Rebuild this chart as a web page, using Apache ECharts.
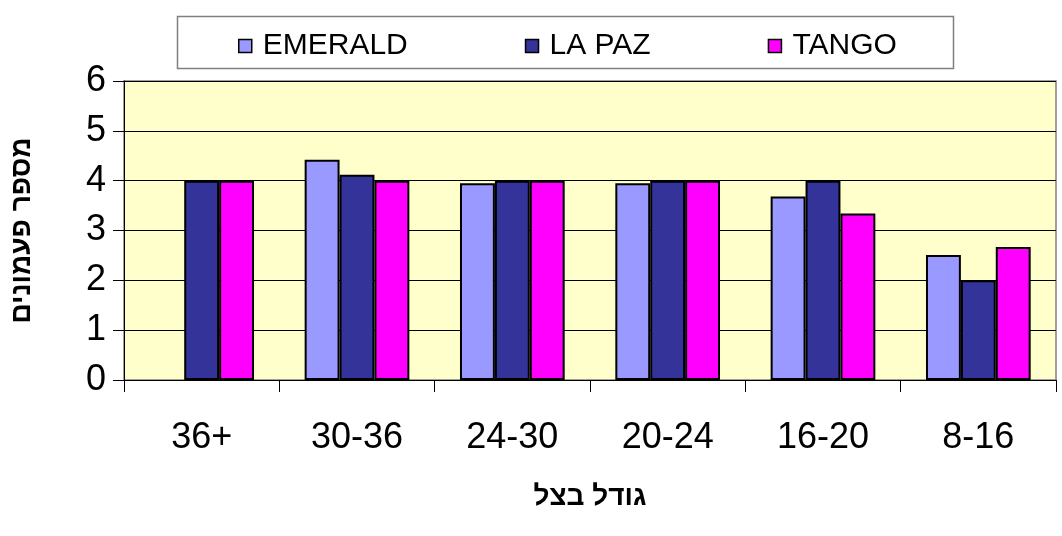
<!DOCTYPE html>
<html>
<head>
<meta charset="utf-8">
<title>מספר פעמונים לפי גודל בצל</title>
<script src="https://cdn.jsdelivr.net/npm/echarts@6/dist/echarts.min.js"></script>
<style>
    html,body{margin:0;padding:0;background:#fff;}
    #chart{width:1062px;height:536px;}
</style>
</head>
<body>
<div id="chart"></div>
<script>
    // נתונים
    var categories = ['36+', '30-36', '24-30', '20-24', '16-20', '8-16'];
    var emerald = [null, 4.42, 3.95, 3.95, 3.68, 2.51];
    var lapaz = [4, 4.12, 4, 4, 4, 2];
    var tango = [4, 4, 4, 4, 3.34, 2.67];
    var yTicks = [0, 1, 2, 3, 4, 5, 6];

    var FONT = "'Liberation Sans', Arial, 'DejaVu Sans', sans-serif";

    var chart = echarts.init(document.getElementById('chart'));

    function barSeries(name, data, color) {
        return {
            name: name,
            type: 'bar',
            data: data,
            barGap: '0%',
            barCategoryGap: '32.6%',
            itemStyle: {
                color: color,
                borderColor: '#000',
                borderWidth: 2
            }
        };
    }

    var option = {
        animation: false,
        textStyle: {
            fontFamily: FONT
        },
        graphic: [
            {
                type: 'rect',
                z: 0,
                shape: {x: 177.5, y: 16.5, width: 776, height: 52},
                style: {fill: '#fff', stroke: '#808080', lineWidth: 1.5}
            }
        ],
        legend: {
            left: 233,
            top: 26,
            icon: 'rect',
            itemWidth: 13,
            itemHeight: 13,
            itemGap: 117,
            itemStyle: {borderColor: '#000', borderWidth: 1.5},
            textStyle: {
                fontFamily: FONT,
                fontSize: 30,
                color: '#000',
                padding: [0, 0, 0, 6]
            },
            data: ['EMERALD', 'LA PAZ', 'TANGO']
        },
        grid: {
            left: 122,
            right: 6,
            top: 81,
            bottom: 156,
            show: true,
            backgroundColor: '#FFFFCC',
            borderColor: '#808080',
            borderWidth: 1.5
        },
        xAxis: {
            type: 'category',
            data: categories,
            name: 'גודל בצל',
            nameLocation: 'middle',
            nameGap: 103,
            nameTextStyle: {
                fontFamily: FONT,
                fontSize: 28,
                fontWeight: 'bold',
                color: '#000'
            },
            axisLine: {lineStyle: {color: '#000', width: 1}},
            axisTick: {show: true, length: 12, lineStyle: {color: '#000'}},
            axisLabel: {
                fontFamily: FONT,
                fontSize: 36,
                color: '#000',
                margin: 40
            }
        },
        yAxis: {
            type: 'value',
            min: yTicks[0],
            max: yTicks[yTicks.length - 1],
            interval: 1,
            name: 'מספר פעמונים',
            nameLocation: 'middle',
            nameGap: 88,
            nameRotate: 90,
            nameTextStyle: {
                fontFamily: FONT,
                fontSize: 28,
                fontWeight: 'bold',
                color: '#000'
            },
            axisLine: {show: true, lineStyle: {color: '#000', width: 1}},
            axisTick: {show: true, length: 11, lineStyle: {color: '#000'}},
            axisLabel: {
                fontFamily: FONT,
                fontSize: 36,
                color: '#000',
                margin: 18
            },
            splitLine: {show: true, lineStyle: {color: '#000', width: 1}}
        },
        series: [
            barSeries('EMERALD', emerald, '#9999FF'),
            barSeries('LA PAZ', lapaz, '#333399'),
            barSeries('TANGO', tango, '#FF00FF')
        ]
    };

    chart.setOption(option);
</script>
</body>
</html>
